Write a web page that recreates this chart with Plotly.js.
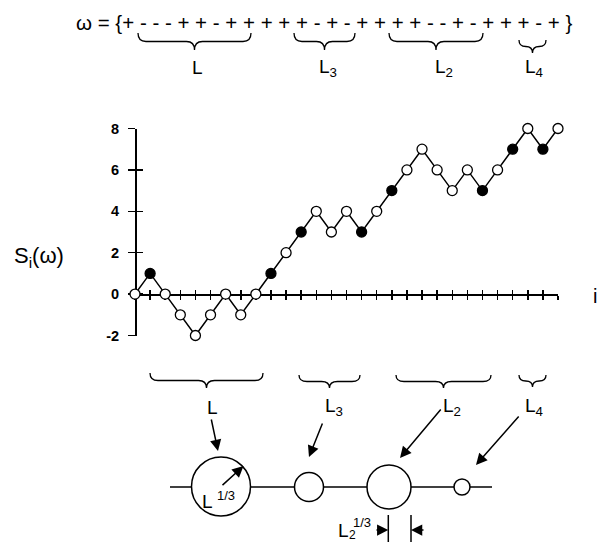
<!DOCTYPE html>
<html>
<head>
<meta charset="utf-8">
<script src="https://cdn.plot.ly/plotly-3.0.1.min.js"></script>
<style>
  html, body { margin: 0; padding: 0; background: #fff; }
  #chart { width: 599px; height: 542px; }
</style>
</head>
<body>
<div id="chart"></div>
<script>
// steps of omega, read from the top string
const steps = ['+', '-', '-', '-', '+', '+', '-', '+', '+', '+', '+', '+', '-', '+',
               '-', '+', '+', '+', '+', '-', '-', '+', '-', '+', '+', '+', '-', '+'];

// the walk S_i(omega)
const walkIndex = [0, 1, 2, 3, 4, 5, 6, 7, 8, 9, 10, 11, 12, 13, 14, 15, 16, 17, 18,
                   19, 20, 21, 22, 23, 24, 25, 26, 27, 28];
const walkValue = [0, 1, 0, -1, -2, -1, 0, -1, 0, 1, 2, 3, 4, 3, 4, 3, 4, 5, 6, 7,
                   6, 5, 6, 5, 6, 7, 8, 7, 8];
const filledIndex = [1, 9, 11, 15, 17, 23, 25, 27];

const yTickVals = [-2, 0, 2, 4, 6, 8];

const W = 599, H = 542;
const px = x => x / W;
const py = y => 1 - y / H;
const FONT = 'Liberation Sans, Arial, sans-serif';

// plot box in pixels
const plotLeft = 135, plotRight = 558, plotTop = 128.5, plotBottom = 335.5;
const zeroY = plotTop + (8 / 10) * (plotBottom - plotTop);

// walk goes on the overlay subplot so it sits above the axis lines
const walkTrace = {
    x: walkIndex,
    y: walkValue,
    xaxis: 'x2',
    yaxis: 'y2',
    mode: 'lines+markers',
    type: 'scatter',
    cliponaxis: false,
    line: { color: '#000', width: 1.5 },
    marker: {
        size: 10,
        color: walkIndex.map(i => filledIndex.includes(i) ? '#000' : '#fff'),
        line: { color: '#000', width: 1.3 }
    },
    hoverinfo: 'skip'
};

const baseTrace = { x: [], y: [], type: 'scatter' };

// curly brace as an svg path, pixel coords in
function bracePath(x1, x2, y0, h) {
    const xm = (x1 + x2) / 2;
    const r = Math.min(8, (x2 - x1) / 4);
    const y1 = y0 + h * 0.5, y2 = y0 + h;
    const P = (x, y) => px(x).toFixed(5) + ',' + py(y).toFixed(5);
    return 'M' + P(x1, y0) + ' Q' + P(x1, y1) + ' ' + P(x1 + r, y1) +
        ' L' + P(xm - r, y1) + ' Q' + P(xm, y1) + ' ' + P(xm, y2) +
        ' Q' + P(xm, y1) + ' ' + P(xm + r, y1) +
        ' L' + P(x2 - r, y1) + ' Q' + P(x2, y1) + ' ' + P(x2, y0);
}

// [x1, x2, yTop, depth]
const topBraces = [[138, 251, 33, 17], [294, 355, 33, 17], [389, 483, 33, 17], [519, 546, 40, 13]];
const bottomBraces = [[150, 263, 373, 15], [299, 360, 375, 13], [396, 491, 375, 13], [519, 546, 375, 12]];

const braceLabels = ['L', 'L<sub>3</sub>', 'L<sub>2</sub>', 'L<sub>4</sub>'];
const topLabelX = [190, 317, 433, 523];
const bottomLabelX = [205, 323, 441, 523];

// cluster circles on the lower line: [cx, cy, r]
const circles = [[221, 486.5, 29.5], [309, 487, 14.5], [389, 487, 22], [462, 487, 8]];

// arrows from labels to circles: [tailX, tailY, headX, headY]
const labelArrows = [[211, 418, 218, 451], [323, 422, 309, 457], [442, 408, 400, 458], [520, 415, 476, 465]];

const shapes = [];
topBraces.concat(bottomBraces).forEach(b => {
    shapes.push({
        type: 'path', xref: 'paper', yref: 'paper',
        path: bracePath(b[0], b[1], b[2], b[3]),
        line: { color: '#000', width: 1.3 }
    });
});
shapes.push({
    type: 'line', xref: 'paper', yref: 'paper',
    x0: px(170), x1: px(492), y0: py(487), y1: py(487),
    line: { color: '#000', width: 1.5 }
});
circles.forEach(c => {
    shapes.push({
        type: 'circle', xref: 'paper', yref: 'paper',
        x0: px(c[0] - c[2]), x1: px(c[0] + c[2]),
        y0: py(c[1] + c[2]), y1: py(c[1] - c[2]),
        fillcolor: '#fff',
        line: { color: '#000', width: 1.5 }
    });
});
[388.3, 411].forEach(x => {
    shapes.push({
        type: 'line', xref: 'paper', yref: 'paper',
        x0: px(x), x1: px(x), y0: py(515), y1: py(542),
        line: { color: '#000', width: 1.5 }
    });
});

function label(text, x, y, size, anchor) {
    return {
        text: text, xref: 'paper', yref: 'paper', x: px(x), y: py(y),
        xanchor: anchor || 'left', yanchor: 'middle', showarrow: false,
        font: { family: FONT, size: size, color: '#000' }
    };
}

function arrow(tx, ty, hx, hy) {
    return {
        text: '', xref: 'paper', yref: 'paper', x: px(hx), y: py(hy),
        ax: tx - hx, ay: ty - hy, showarrow: true,
        arrowhead: 2, arrowsize: 1.5, arrowwidth: 1.5, arrowcolor: '#000', standoff: 0
    };
}

const annotations = [];
annotations.push(label('\u03c9 = {' + steps.join(' ') + ' }', 324, 22, 20.5, 'center'));
braceLabels.forEach((t, k) => {
    annotations.push(label(t, topLabelX[k], 68, 19));
    annotations.push(label(t, bottomLabelX[k], 407, 19));
});
labelArrows.forEach(a => annotations.push(arrow(a[0], a[1], a[2], a[3])));
annotations.push(arrow(221, 486.5, 243.5, 466));
annotations.push(label('L', 200, 501, 19));
annotations.push(label('1/3', 226, 495, 13, 'center'));
annotations.push(label('L', 336, 530, 19));
annotations.push(label('2', 352.5, 534.5, 12, 'center'));
annotations.push(label('1/3', 362, 522, 13, 'center'));
annotations.push(arrow(375, 530, 388.3, 530));
annotations.push(arrow(425, 530, 411, 530));
annotations.push(label('S<sub>i</sub>(\u03c9)', 39, 257, 22, 'center'));
annotations.push(label('i', 595, 296, 20, 'center'));

const commonTicks = { tickwidth: 1.5, tickcolor: '#000', showgrid: false, zeroline: false, layer: 'below traces' };

const layout = {
    width: W,
    height: H,
    margin: { l: 0, r: 0, t: 0, b: 0 },
    paper_bgcolor: '#fff',
    plot_bgcolor: 'rgba(0,0,0,0)',
    showlegend: false,
    font: { family: FONT, color: '#000' },
    xaxis: Object.assign({
        domain: [px(plotLeft), px(plotRight)],
        range: [0, 28],
        anchor: 'free', position: py(zeroY),
        showline: true, linecolor: '#000', linewidth: 1.5,
        ticks: 'outside', ticklen: 4, tick0: 0, dtick: 1,
        showticklabels: false
    }, commonTicks),
    xaxis2: Object.assign({
        matches: 'x', overlaying: 'x',
        anchor: 'free', position: py(zeroY),
        showline: false,
        ticks: 'inside', ticklen: 4, tick0: 0, dtick: 1,
        showticklabels: false
    }, commonTicks),
    yaxis: Object.assign({
        domain: [py(plotBottom), py(plotTop)],
        range: [-2, 8],
        anchor: 'free', position: px(plotLeft),
        showline: true, linecolor: '#000', linewidth: 1.5,
        ticks: 'outside', ticklen: 7,
        tickvals: yTickVals, ticktext: yTickVals.map(String),
        ticklabelstandoff: 6,
        tickfont: { family: FONT, size: 14.5, weight: 'bold', color: '#000' }
    }, commonTicks),
    yaxis2: Object.assign({
        matches: 'y', overlaying: 'y',
        anchor: 'free', position: px(plotLeft), side: 'left',
        showline: false,
        ticks: 'inside', ticklen: 7,
        tickvals: yTickVals,
        showticklabels: false
    }, commonTicks),
    shapes: shapes,
    annotations: annotations
};

Plotly.newPlot('chart', [baseTrace, walkTrace], layout, { staticPlot: true });
</script>
</body>
</html>
